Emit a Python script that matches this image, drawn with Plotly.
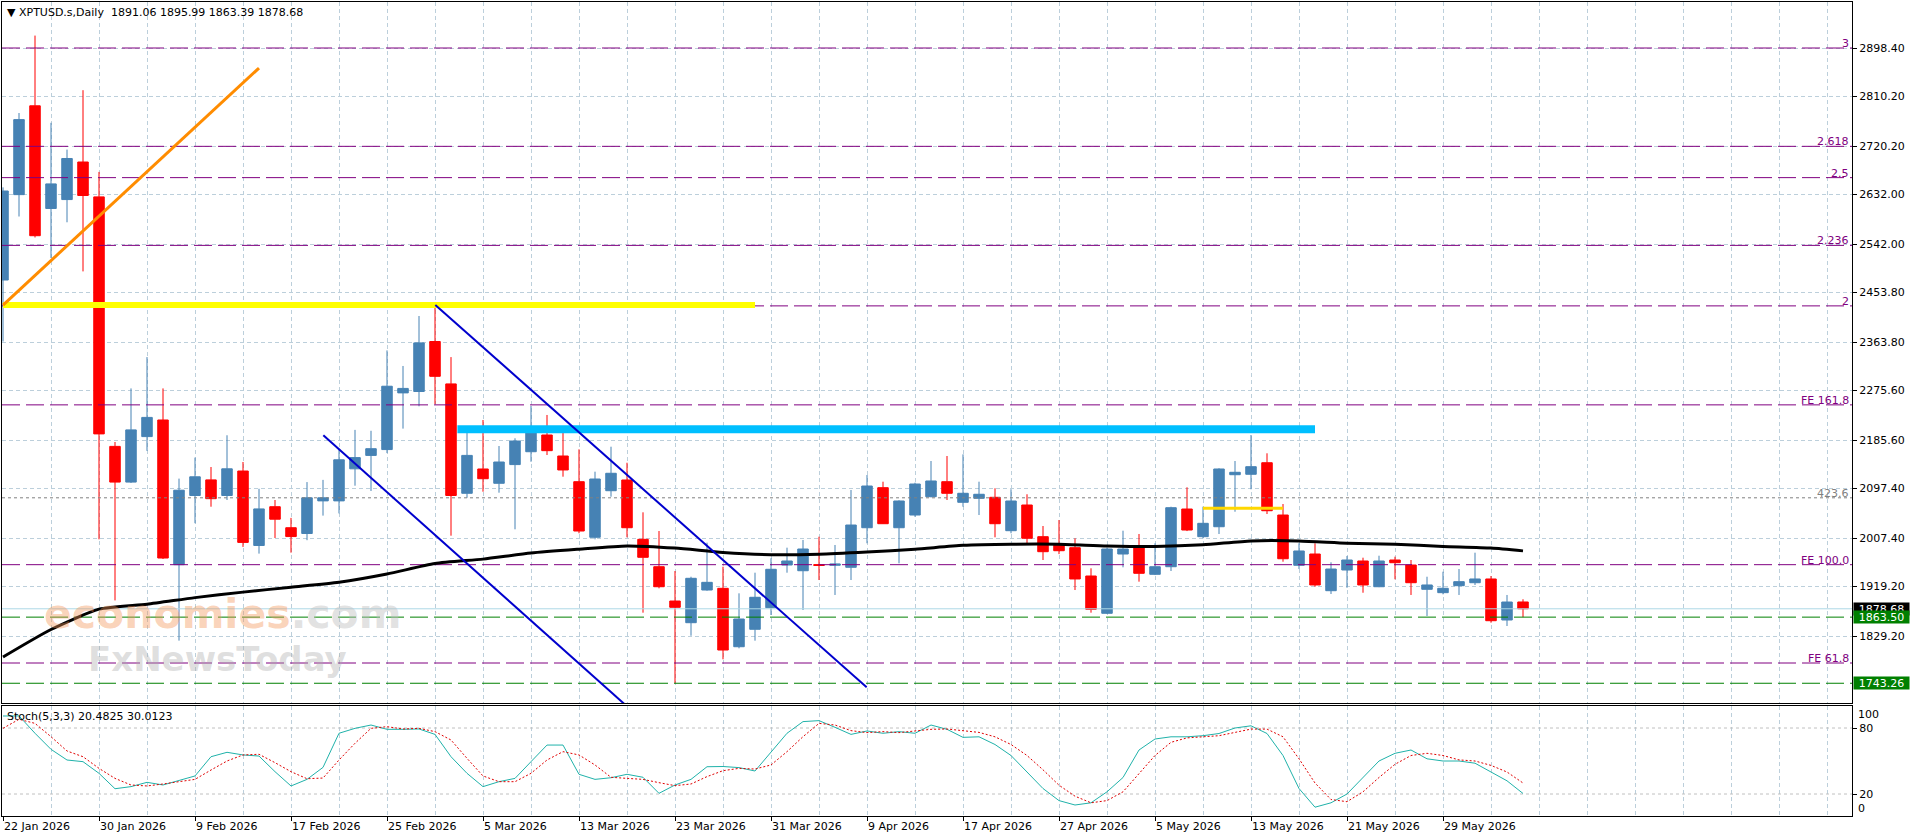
import plotly.graph_objects as go

# ---------------- data ----------------
date_ticks = ["22 Jan 2026", "30 Jan 2026", "9 Feb 2026", "17 Feb 2026", "25 Feb 2026",
              "5 Mar 2026", "13 Mar 2026", "23 Mar 2026", "31 Mar 2026", "9 Apr 2026",
              "17 Apr 2026", "27 Apr 2026", "5 May 2026", "13 May 2026", "21 May 2026",
              "29 May 2026"]
date_tick_bars = [0, 6, 12, 18, 24, 30, 36, 42, 48, 54, 60, 66, 72, 78, 84, 90]

opens = [2476.5, 2631.8, 2793.3, 2606.6, 2622.8, 2691.1, 2627.7, 2174.0, 2109.1, 2191.8,
         2222.0, 1958.9, 2084.7, 2113.1, 2084.7, 2129.2, 1993.8, 2064.3, 2026.1, 2015.6,
         2074.9, 2074.9, 2133.2, 2157.6, 2168.2, 2271.3, 2273.8, 2364.7, 2287.6, 2088.7,
         2132.9, 2106.9, 2140.9, 2164.3, 2194.7, 2156.5, 2109.8, 2008.7, 2093.4, 2112.9,
         2005.0, 1955.2, 1892.8, 1853.4, 1912.8, 1915.9, 1809.7, 1841.4, 1880.7, 1958.3,
         1947.9, 1959.0, 1957.8, 1954.1, 2026.1, 2098.9, 2026.1, 2049.2, 2082.5, 2109.8,
         2072.3, 2079.6, 2081.4, 2020.7, 2067.4, 2009.8, 1996.5, 1989.8, 1938.3, 1870.5,
         1978.3, 1991.6, 1941.4, 1955.2, 2060.1, 2009.8, 2027.9, 2122.5, 2123.3, 2144.3,
         2049.2, 1957.8, 1978.3, 1911.6, 1949.2, 1965.6, 1918.8, 1967.4, 1958.3, 1914.1,
         1908.0, 1920.7, 1926.1, 1932.9, 1858.3, 1891.06]
highs = [2645.0, 2780.2, 2921.0, 2762.4, 2713.7, 2821.7, 2673.1, 2182.0, 2279.4, 2336.4,
         2279.4, 2115.4, 2153.6, 2136.5, 2194.2, 2145.6, 2096.9, 2076.5, 2044.0, 2109.1,
         2113.1, 2169.8, 2204.0, 2202.4, 2348.5, 2320.2, 2411.1, 2432.0, 2336.4, 2198.3,
         2222.0, 2174.7, 2188.7, 2247.5, 2231.1, 2203.8, 2168.6, 2128.0, 2173.4, 2144.3,
         2054.1, 2020.1, 1947.4, 1937.0, 1998.9, 1955.2, 1906.8, 1944.3, 1970.5, 1989.8,
         2003.8, 2009.8, 1994.7, 2094.7, 2121.9, 2109.8, 2076.0, 2108.0, 2147.4, 2156.5,
         2159.5, 2109.8, 2097.8, 2096.0, 2086.9, 2029.2, 2040.1, 2006.9, 1952.3, 1990.0,
         2020.7, 2014.7, 1997.8, 2064.3, 2099.6, 2064.3, 2134.2, 2147.4, 2194.7, 2161.4,
         2069.2, 1997.8, 1997.8, 1963.2, 1974.7, 1971.6, 1975.2, 1973.4, 1967.4, 1937.0,
         1946.1, 1951.0, 1980.7, 1938.3, 1903.8, 1895.99]
lows = [2364.7, 2592.0, 2553.9, 2516.6, 2581.5, 2492.2, 2005.0, 1893.9, 2107.4, 2165.8,
        1969.2, 1820.8, 2034.3, 2064.3, 2076.5, 1991.2, 1979.0, 2007.4, 1980.8, 2003.4,
        2048.1, 2052.1, 2102.5, 2092.9, 2161.8, 2206.3, 2246.9, 2251.1, 2011.6, 2080.5,
        2091.6, 2089.8, 2023.2, 2146.1, 2158.3, 2118.9, 2016.0, 2005.0, 2082.5, 2008.7,
        1871.6, 1915.9, 1743.26, 1829.7, 1911.6, 1786.8, 1806.8, 1820.7, 1867.4, 1944.3,
        1876.5, 1931.0, 1903.8, 1931.0, 1997.8, 2032.9, 1961.4, 2046.0, 2081.4, 2076.5,
        2064.3, 2049.2, 2008.7, 2016.0, 1997.8, 1967.4, 1978.1, 1912.8, 1871.6, 1869.2,
        1954.1, 1928.0, 1940.0, 1947.4, 2020.0, 2006.9, 2014.7, 2055.2, 2096.0, 2051.0,
        1964.3, 1951.0, 1918.8, 1905.6, 1917.0, 1907.9, 1918.0, 1932.3, 1903.8, 1865.6,
        1905.0, 1903.8, 1922.0, 1853.4, 1847.4, 1863.39]
closes = [2638.4, 2768.2, 2557.1, 2651.3, 2697.5, 2630.2, 2196.7, 2109.1, 2204.0, 2226.7,
          1971.0, 2094.3, 2118.7, 2078.9, 2133.2, 1999.4, 2060.3, 2041.6, 2010.0, 2080.5,
          2080.5, 2149.6, 2153.6, 2169.8, 2283.4, 2279.4, 2362.2, 2301.4, 2084.7, 2157.6,
          2115.2, 2145.6, 2183.8, 2202.0, 2166.2, 2131.1, 2020.1, 2114.7, 2125.1, 2026.1,
          1972.3, 1918.8, 1881.4, 1934.1, 1926.8, 1803.7, 1860.1, 1899.6, 1950.5, 1965.6,
          1987.4, 1957.6, 1960.1, 2031.0, 2101.9, 2033.4, 2074.7, 2105.6, 2111.1, 2088.7,
          2088.7, 2086.9, 2033.4, 2074.7, 2006.9, 1982.5, 1984.3, 1932.9, 1877.8, 1987.4,
          1987.4, 1943.2, 1955.2, 2062.5, 2021.9, 2034.1, 2132.9, 2126.9, 2137.1, 2057.0,
          1969.7, 1983.8, 1922.0, 1951.0, 1967.4, 1922.0, 1965.6, 1962.5, 1926.1, 1922.0,
          1916.0, 1928.0, 1932.9, 1857.0, 1891.0, 1878.68]

# moving average (black), read at sampled bars
ma_bars = [0, 3, 6, 9, 12, 15, 18, 21, 24, 27, 30, 33, 36, 39, 42, 45, 48, 51, 54, 57,
           60, 63, 66, 69, 72, 75, 78, 81, 84, 87, 90, 93, 95]
ma_vals = [1791, 1841, 1878, 1887, 1899, 1909, 1918, 1927, 1942, 1961, 1969, 1980, 1987,
           1993, 1989, 1981, 1977, 1978, 1982, 1987, 1994, 1996, 1996, 1993, 1992, 1995,
           2002, 2002, 1998, 1996, 1992, 1989, 1984]

# Stochastic (5,3,3)
stoch_k = [90.9, 91.0, 75.2, 60.6, 50.9, 49.4, 38.8, 24.8, 26.7, 30.6,
           28.2, 32.1, 36.4, 53.9, 57.9, 55.5, 54.5, 40.3, 27.3, 33.3,
           44.2, 75.2, 79.7, 82.7, 78.8, 78.8, 79.1, 74.2, 53.9, 38.8,
           26.7, 31.2, 34.2, 49.4, 64.5, 64.5, 37.9, 33.3, 34.8, 37.9,
           35.2, 20.6, 28.2, 33.3, 44.8, 45.0, 44.0, 40.9, 58.5, 75.2,
           85.8, 86.7, 80.6, 74.2, 77.3, 75.2, 76.7, 75.2, 82.7, 78.8,
           71.5, 72.0, 65.0, 55.0, 40.0, 25.0, 14.0, 10.0, 12.0, 22.0,
           35.0, 60.0, 70.0, 72.0, 72.0, 73.0, 75.0, 80.0, 82.0, 75.0,
           55.0, 25.0, 8.0, 12.0, 20.0, 35.0, 50.0, 57.0, 60.0, 52.0,
           50.0, 50.0, 48.0, 40.0, 32.0, 20.4825]
stoch_d = [79.7, 87.9, 84.2, 72.1, 59.1, 53.9, 43.3, 34.2, 28.2, 27.3,
           29.1, 30.9, 33.3, 41.8, 50.0, 55.5, 56.1, 48.5, 40.3, 33.9,
           34.5, 50.9, 66.1, 79.7, 81.2, 79.1, 79.7, 76.7, 69.1, 52.4,
           36.4, 31.2, 31.2, 38.8, 50.9, 58.5, 55.5, 46.4, 35.2, 34.2,
           33.3, 30.3, 27.6, 29.1, 35.8, 41.2, 43.3, 42.7, 46.4, 58.5,
           72.1, 84.2, 82.7, 77.6, 75.8, 76.7, 75.8, 77.3, 78.8, 79.1,
           77.6, 76.0, 72.0, 65.0, 55.0, 42.0, 28.0, 18.0, 12.0, 14.0,
           22.0, 38.0, 55.0, 67.0, 71.0, 72.0, 73.0, 76.0, 79.0, 79.0,
           72.0, 52.0, 30.0, 15.0, 13.0, 22.0, 35.0, 47.0, 55.0, 57.0,
           55.0, 51.0, 50.0, 46.0, 40.0, 30.0123]

price_ticks = [2898.40, 2810.20, 2720.20, 2632.00, 2542.00, 2453.80, 2363.80, 2275.60,
               2185.60, 2097.40, 2007.40, 1919.20, 1829.20]

fib_levels = [2898.4, 2719.6, 2662.7, 2539.5, 2429.5, 2249.5, 1958.9, 1780.1]
fib_labels = ["3", "2.618", "2.5", "2.236", "2", "FE 161.8", "FE 100.0", "FE 61.8"]
ext_level = 2080.5
ext_label = "423.6"
support_levels = [1863.50, 1743.26]

yellow_bars = [0, 47.0]
yellow_price = 2431.0
cyan_bars = [28.4, 82.0]
cyan_price = 2205.0
gold_bars = [75.0, 80.0]
gold_price = 2061.4
orange_bars = [0, 16.0]
orange_prices = [2431.0, 2862.0]
chan_upper_bars = [27.02, 53.98]
chan_upper_prices = [2431.1, 1735.9]
chan_lower_bars = [20.02, 39.0]
chan_lower_prices = [2194.2, 1701.3]

# ---------------- layout helpers ----------------
W, H = 1916, 840
ML, MR, MT, MB = 2, 64, 2, 24
PW = W - ML - MR
PH = H - MT - MB
MAIN_BOTTOM_PX = 703
STOCH_TOP_PX = 706


def px_x(px):
    return (px - ML) / PW


def px_y(py):
    return (H - MB - py) / PH


GRID = "#BCCFDB"
FONT = "DejaVu Sans"
PURPLE = "#800080"
GREEN = "#008000"
xr = [-0.0625, 115.5625]
yr = [1707.37, 2982.07]

fig = go.Figure()


def hline_trace(x0, x1, y, color, width, dash="solid", xa="x", ya="y"):
    return go.Scatter(x=[x0, x1], y=[y, y], mode="lines",
                      line=dict(color=color, width=width, dash=dash),
                      showlegend=False, hoverinfo="skip", xaxis=xa, yaxis=ya)


# horizontal levels first (drawn under the candles)
for lv in fib_levels:
    fig.add_trace(hline_trace(xr[0], xr[1], lv, PURPLE, 1, "18px,6px"))
fig.add_trace(hline_trace(xr[0], xr[1], ext_level, "#808080", 1, "3px,3px"))
for lv in support_levels:
    fig.add_trace(hline_trace(xr[0], xr[1], lv, GREEN, 1, "18px,6px"))
fig.add_trace(hline_trace(xr[0], xr[1], closes[-1], "#ADD8E6", 1))
fig.add_trace(hline_trace(yellow_bars[0], yellow_bars[1], yellow_price, "#FFFF00", 6))
fig.add_trace(hline_trace(cyan_bars[0], cyan_bars[1], cyan_price, "#00BFFF", 8))
fig.add_trace(hline_trace(gold_bars[0], gold_bars[1], gold_price, "#FFD700", 3))
for lv in [80, 20]:
    fig.add_trace(hline_trace(xr[0], xr[1], lv, "#C0C0C0", 1, "3px,3px", "x2", "y2"))

# candles
fig.add_trace(go.Candlestick(
    x=list(range(len(opens))), open=opens, high=highs, low=lows, close=closes,
    increasing=dict(line=dict(color="#4682B4", width=1), fillcolor="#4682B4"),
    decreasing=dict(line=dict(color="#FF0000", width=1), fillcolor="#FF0000"),
    whiskerwidth=0, showlegend=False, xaxis="x", yaxis="y"))

# moving average
fig.add_trace(go.Scatter(x=ma_bars, y=ma_vals, mode="lines",
                         line=dict(color="black", width=3, shape="spline", smoothing=0.6),
                         showlegend=False, hoverinfo="skip", xaxis="x", yaxis="y"))

# trend lines
for bx, py, col, w in [(orange_bars, orange_prices, "#FF8C00", 3),
                       (chan_upper_bars, chan_upper_prices, "#0000CD", 2),
                       (chan_lower_bars, chan_lower_prices, "#0000CD", 2)]:
    fig.add_trace(go.Scatter(x=bx, y=py, mode="lines", line=dict(color=col, width=w),
                             showlegend=False, hoverinfo="skip", xaxis="x", yaxis="y"))

# stochastic
fig.add_trace(go.Scatter(x=list(range(len(stoch_k))), y=stoch_k, mode="lines",
                         line=dict(color="#20B2AA", width=1), showlegend=False,
                         hoverinfo="skip", xaxis="x2", yaxis="y2"))
fig.add_trace(go.Scatter(x=list(range(len(stoch_d))), y=stoch_d, mode="lines",
                         line=dict(color="#E00000", width=1, dash="2px,2px"), showlegend=False,
                         hoverinfo="skip", xaxis="x2", yaxis="y2"))

ann = []
# title
ann.append(dict(xref="paper", yref="paper", x=px_x(5), y=px_y(12), xanchor="left", yanchor="middle",
                text="\u25BC XPTUSD.s,Daily\u00a0\u00a0%.2f %.2f %.2f %.2f" % (opens[-1], highs[-1], lows[-1], closes[-1]),
                showarrow=False, font=dict(family=FONT, size=11, color="black")))
ann.append(dict(xref="paper", yref="paper", x=px_x(5), y=px_y(716), xanchor="left", yanchor="middle",
                text="Stoch(5,3,3) %.4f %.4f" % (stoch_k[-1], stoch_d[-1]),
                showarrow=False, font=dict(family=FONT, size=11, color="black")))
# level labels
for lv, lb in zip(fib_levels, fib_labels):
    ann.append(dict(xref="paper", yref="y", x=1, y=lv, xanchor="right", yanchor="bottom",
                    xshift=-2, yshift=-3, text=lb, showarrow=False, borderpad=0,
                    font=dict(family=FONT, size=11, color=PURPLE)))
ann.append(dict(xref="paper", yref="y", x=1, y=ext_level, xanchor="right", yanchor="bottom",
                xshift=-2, yshift=-3, text=ext_label, showarrow=False, borderpad=0,
                font=dict(family=FONT, size=11, color="#808080")))
# price boxes on axis
ann.append(dict(xref="paper", yref="y", x=1, y=closes[-1], xanchor="left", yanchor="middle",
                xshift=1, text="%.2f" % closes[-1], showarrow=False, bgcolor="black",
                width=55, height=12, borderpad=0, font=dict(family=FONT, size=11, color="white")))
for lv in support_levels:
    ann.append(dict(xref="paper", yref="y", x=1, y=lv, xanchor="left", yanchor="middle",
                    xshift=1, text="%.2f" % lv, showarrow=False, bgcolor=GREEN,
                    width=55, height=12, borderpad=0, font=dict(family=FONT, size=11, color="white")))
# stoch 100 / 0 labels
ann.append(dict(xref="paper", yref="y2", x=1, y=100, xanchor="left", yanchor="middle", xshift=4, yshift=-8,
                text="100", showarrow=False, font=dict(family=FONT, size=11, color="black")))
ann.append(dict(xref="paper", yref="y2", x=1, y=0, xanchor="left", yanchor="middle", xshift=4, yshift=8,
                text="0", showarrow=False, font=dict(family=FONT, size=11, color="black")))
# watermark
ann.append(dict(xref="paper", yref="paper", x=px_x(222), y=px_y(614), xanchor="center", yanchor="middle",
                text='<b><span style="color:rgba(244,150,90,0.42)">economies</span>'
                     '<span style="color:rgba(190,190,190,0.45)">.com</span></b>',
                showarrow=False, font=dict(family=FONT, size=41)))
ann.append(dict(xref="paper", yref="paper", x=px_x(217), y=px_y(659), xanchor="center", yanchor="middle",
                text='<b>FxNewsToday</b>', showarrow=False,
                font=dict(family=FONT, size=34, color="rgba(170,170,170,0.38)")))

axis_common = dict(showline=True, mirror=True, linecolor="black", linewidth=1, zeroline=False)

fig.update_layout(
    width=W, height=H, margin=dict(l=ML, r=MR, t=MT, b=MB),
    paper_bgcolor="white", plot_bgcolor="white", showlegend=False,
    boxgap=0.18, boxgroupgap=0.2, hovermode=False,
    annotations=ann,
    xaxis=dict(domain=[0, 1], anchor="y", range=xr, tickvals=date_tick_bars, showticklabels=False,
               ticks="", showgrid=True, gridcolor=GRID, griddash="4px,3px", gridwidth=1,
               minor=dict(dtick=3, tick0=0, showgrid=True, gridcolor=GRID, griddash="4px,3px", ticks=""),
               rangeslider=dict(visible=False), **axis_common),
    yaxis=dict(domain=[px_y(MAIN_BOTTOM_PX), 1], anchor="x", range=yr, side="right",
               tickvals=price_ticks, ticktext=["%.2f" % v for v in price_ticks],
               ticks="outside", ticklen=4, tickcolor="black",
               tickfont=dict(family=FONT, size=11, color="black"),
               showgrid=True, gridcolor=GRID, griddash="4px,3px", **axis_common),
    xaxis2=dict(domain=[0, 1], anchor="y2", range=xr, tickvals=date_tick_bars, ticktext=date_ticks,
                ticklabelposition="outside right", ticks="outside", ticklen=4, tickcolor="black",
                tickfont=dict(family=FONT, size=11, color="black"),
                showgrid=True, gridcolor=GRID, griddash="4px,3px",
                minor=dict(dtick=3, tick0=0, showgrid=True, gridcolor=GRID, griddash="4px,3px", ticks=""),
                **axis_common),
    yaxis2=dict(domain=[0, px_y(STOCH_TOP_PX)], anchor="x2", range=[0, 100], side="right",
                tickvals=[80, 20], ticktext=["80", "20"], ticks="outside", ticklen=4, tickcolor="black",
                tickfont=dict(family=FONT, size=11, color="black"), showgrid=False, **axis_common),
)

fig.write_html("out.html")
